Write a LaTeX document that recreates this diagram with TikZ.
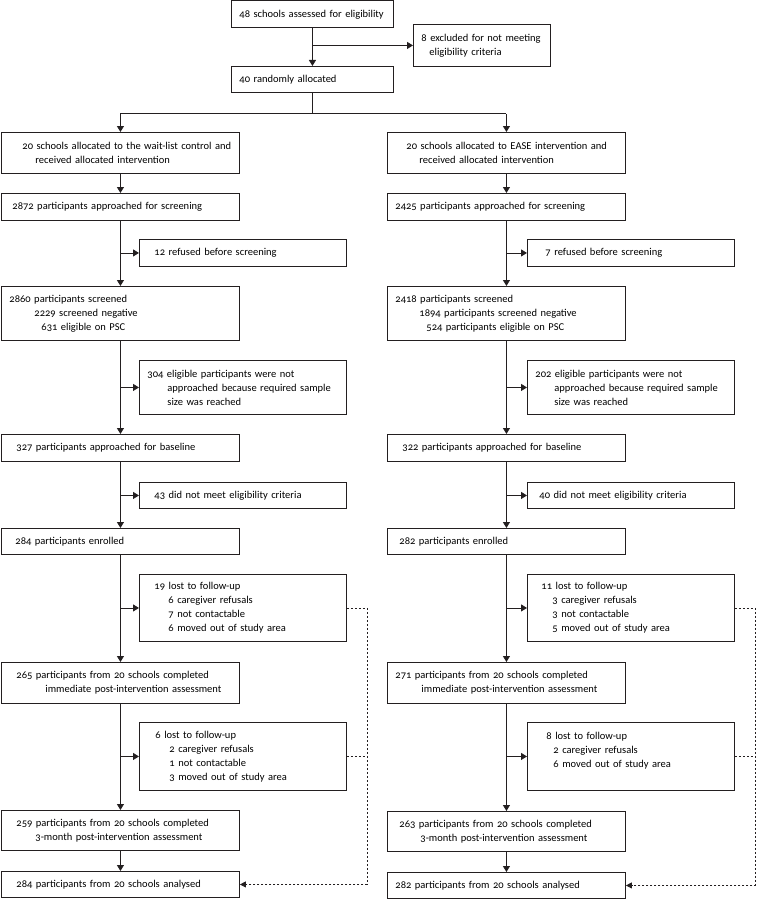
\documentclass[tikz,border=0pt]{standalone}
\usepackage{fontspec}
\setmainfont{Carlito}[Numbers=OldStyle]
\usetikzlibrary{arrows.meta}
\definecolor{linegray}{HTML}{231F20}
\newcommand{\indt}[1]{\hspace*{#1pt}}

\begin{document}
\begin{tikzpicture}[x=1pt, y=-1pt,
    font=\fontsize{10.5}{14}\selectfont,
    box/.style={draw=linegray, line width=0.9pt, anchor=north west, align=left,
        inner xsep=8pt, inner ysep=0pt},
    mainbox/.style={box, text width=222pt, minimum height=#1},
    sidebox/.style={box, text width=191pt, minimum height=#1},
    flow/.style={linegray, line width=0.9pt, -{Triangle[length=6pt, width=7pt]}},
    lost/.style={linegray, line width=0.8pt, dash pattern=on 2.5pt off 1.5pt,
        -{Triangle[length=6pt, width=6pt]}}
]
\useasboundingbox (0,0) rectangle (757,899);

% enrolment
\node[box, text width=146pt, minimum height=27pt] (assess) at (231,0.5) {48 schools assessed for eligibility};
\node[box, text width=121pt, minimum height=42pt] (excl) at (413,24) {8 excluded for not meeting\\\indt{8}eligibility criteria};
\node[box, text width=146pt, minimum height=26pt] (random) at (231,66) {40 randomly allocated};

% wait-list control arm
\node[mainbox=41pt] (allocL) at (1,132) {\indt{13}20 schools allocated to the wait-list control and\\\indt{26}received allocated intervention};
\node[mainbox=27pt] (apprL) at (1,193) {\indt{3}2872 participants approached for screening};
\node[sidebox=27pt] (refL) at (139,239) {\indt{7}12 refused before screening};
\node[mainbox=54pt] (scrL) at (1,286) {2860 participants screened\\\indt{25}2229 screened negative\\\indt{32}631 eligible on PSC};
\node[sidebox=54pt] (naL) at (139,360) {304 eligible participants were not\\\indt{20}approached because required sample\\\indt{20}size was reached};
\node[mainbox=27pt] (baseL) at (1,434) {\indt{7}327 participants approached for baseline};
\node[sidebox=26pt] (nmL) at (139,482) {\indt{7}43 did not meet eligibility criteria};
\node[mainbox=26pt] (enrL) at (1,528) {\indt{6}284 participants enrolled};
\node[sidebox=67pt] (lostaL) at (139,574) {\indt{7}19 lost to follow-up\\\indt{21}6 caregiver refusals\\\indt{21}7 not contactable\\\indt{21}6 moved out of study area};
\node[mainbox=41pt] (postL) at (1,662) {\indt{7}265 participants from 20 schools completed\\\indt{36}immediate post-intervention assessment};
\node[sidebox=68pt] (lostbL) at (139,722) {\indt{8}6 lost to follow-up\\\indt{22}2 caregiver refusals\\\indt{22}1 not contactable\\\indt{22}3 moved out of study area};
\node[mainbox=40pt] (m3L) at (1,810) {\indt{7}259 participants from 20 schools completed\\\indt{26}3-month post-intervention assessment};
\node[mainbox=26pt] (anaL) at (1,871) {\indt{7}284 participants from 20 schools analysed};

% EASE arm
\node[mainbox=41pt] (allocR) at (387,132) {\indt{11}20 schools allocated to EASE intervention and\\\indt{24}received allocated intervention};
\node[mainbox=27pt] (apprR) at (387,193) {2425 participants approached for screening};
\node[sidebox=27pt] (refR) at (527,239) {\indt{10}7 refused before screening};
\node[mainbox=54pt] (scrR) at (387,286) {2418 participants screened\\\indt{24}1894 participants screened negative\\\indt{31}524 participants eligible on PSC};
\node[sidebox=54pt] (naR) at (527,360) {202 eligible participants were not\\\indt{19}approached because required sample\\\indt{19}size was reached};
\node[mainbox=27pt] (baseR) at (387,434) {\indt{7}322 participants approached for baseline};
\node[sidebox=26pt] (nmR) at (527,482) {\indt{4}40 did not meet eligibility criteria};
\node[mainbox=26pt] (enrR) at (387,528) {\indt{4}282 participants enrolled};
\node[sidebox=67pt] (lostaR) at (527,574) {\indt{6}11 lost to follow-up\\\indt{17}3 caregiver refusals\\\indt{17}3 not contactable\\\indt{17}5 moved out of study area};
\node[mainbox=41pt] (postR) at (387,662) {271 participants from 20 schools completed\\\indt{26}immediate post-intervention assessment};
\node[sidebox=68pt] (lostbR) at (527,722) {\indt{11}8 lost to follow-up\\\indt{18}2 caregiver refusals\\\indt{18}6 moved out of study area\\~};
\node[mainbox=40pt] (m3R) at (387,811) {\indt{4}263 participants from 20 schools completed\\\indt{25}3-month post-intervention assessment};
\node[mainbox=26pt] (anaR) at (387,872) {282 participants from 20 schools analysed};

% top connectors
\draw[flow] (assess.south) -- (random.north);
\draw[flow] (assess.south |- excl.west) -- (excl.west);
\draw[linegray, line width=0.9pt] (random.south) -- ++(0,21) coordinate (split);
\draw[linegray, line width=0.9pt] (split -| allocL.north) -- (split -| allocR.north);
\draw[flow] (split -| allocL.north) -- (allocL.north);
\draw[flow] (split -| allocR.north) -- (allocR.north);

% arm connectors
\foreach \c in {L,R} {
    \draw[flow] (alloc\c.south) -- (appr\c.north);
    \draw[flow] (appr\c.south) -- (scr\c.north);
    \draw[flow] (scr\c.south) -- (base\c.north);
    \draw[flow] (base\c.south) -- (enr\c.north);
    \draw[flow] (enr\c.south) -- (post\c.north);
    \draw[flow] (post\c.south) -- (m3\c.north);
    \draw[flow] (m3\c.south) -- (ana\c.north);
    \draw[flow] (appr\c.south |- ref\c.west) -- (ref\c.west);
    \draw[flow] (scr\c.south |- na\c.west) -- (na\c.west);
    \draw[flow] (base\c.south |- nm\c.west) -- (nm\c.west);
    \draw[flow] (enr\c.south |- losta\c.west) -- (losta\c.west);
    \draw[flow] (post\c.south |- lostb\c.west) -- (lostb\c.west);
    \draw[lost] (losta\c.east) -- ++(20,0) coordinate (d\c) |- (ana\c.east);
    \draw[lost, -] (lostb\c.east) -- (lostb\c.east -| d\c);
}
\end{tikzpicture}
\end{document}
